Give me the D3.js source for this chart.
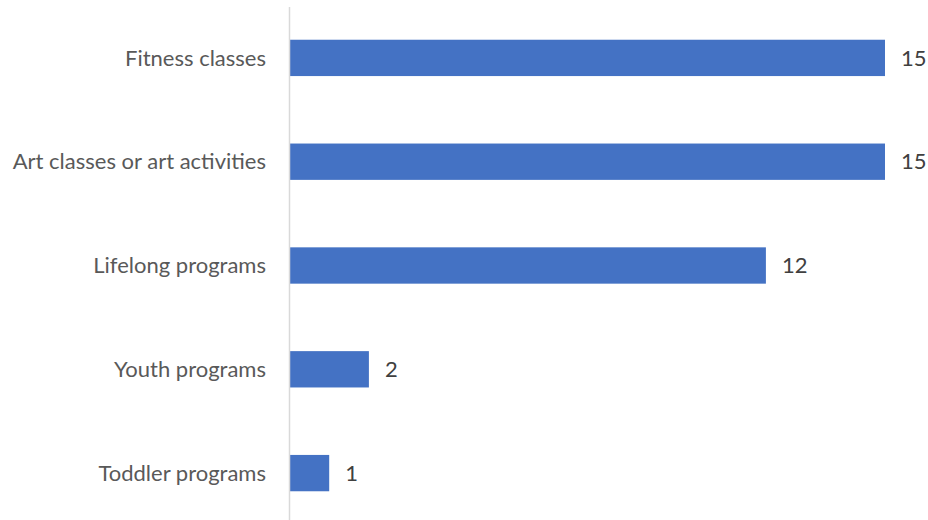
<!DOCTYPE html>
<html>
<head>
<meta charset="utf-8">
<script src="https://cdn.jsdelivr.net/npm/d3@7"></script>
<style>
  html, body { margin: 0; padding: 0; background: #fff; }
  svg { display: block; }
</style>
</head>
<body>
<svg id="chart" width="928" height="520"></svg>
<script>
const categories = ["Fitness classes", "Art classes or art activities", "Lifelong programs", "Youth programs", "Toddler programs"];
const values = [15, 15, 12, 2, 1];

const svg = d3.select("#chart");
const W = 928, H = 520;
const x0 = 289.5;

const x = d3.scaleLinear().domain([0, 15]).range([x0, 885]);
const y = d3.scaleBand().domain(categories).range([6, 525]).paddingInner(0.65).paddingOuter(0.325);

const font = "Lato, 'Open Sans', sans-serif";

svg.selectAll("rect.bar")
  .data(values)
  .enter().append("rect")
  .attr("class", "bar")
  .attr("x", x(0))
  .attr("y", (d, i) => y(categories[i]))
  .attr("width", d => x(d) - x(0))
  .attr("height", y.bandwidth())
  .attr("fill", "#4472C4");

// vertical category axis
svg.append("line")
  .attr("x1", x0).attr("x2", x0)
  .attr("y1", 7).attr("y2", H)
  .attr("stroke", "#d9d9d9").attr("stroke-width", 1.5);

svg.selectAll("text.cat")
  .data(categories)
  .enter().append("text")
  .attr("class", "cat")
  .attr("x", 266)
  .attr("y", d => y(d) + y.bandwidth() / 2)
  .attr("dy", "0.35em")
  .attr("text-anchor", "end")
  .attr("font-family", font)
  .attr("font-size", 22)
  .attr("fill", "#595959")
  .text(d => d);

svg.selectAll("text.val")
  .data(values)
  .enter().append("text")
  .attr("class", "val")
  .attr("x", d => x(d) + 16)
  .attr("y", (d, i) => y(categories[i]) + y.bandwidth() / 2)
  .attr("dy", "0.35em")
  .attr("font-family", font)
  .attr("font-size", 22)
  .attr("fill", "#404040")
  .text(d => d);
</script>
</body>
</html>
